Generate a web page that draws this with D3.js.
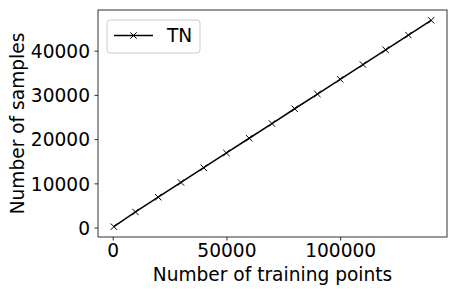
<!DOCTYPE html>
<html>
<head>
<meta charset="utf-8">
<script src="https://cdn.jsdelivr.net/npm/d3@7"></script>
<style>
  body { margin: 0; background: #fff; }
  svg text { font-family: "DejaVu Sans", sans-serif; fill: #000; }
</style>
</head>
<body>
<svg id="chart" width="458" height="293"></svg>
<script>
// datos
const trainingPoints = [500, 10000, 20000, 30000, 40000, 50000, 60000, 70000, 80000, 90000, 100000, 110000, 120000, 130000, 140000];
const samples = [200, 3530, 6870, 10200, 13530, 16870, 20200, 23530, 26870, 30200, 33530, 36870, 40200, 43530, 46870];
const xTicks = [0, 50000, 100000];
const yTicks = [0, 10000, 20000, 30000, 40000];
const seriesName = "TN";

const svg = d3.select("#chart");
const margin = { left: 98, right: 11, top: 10, bottom: 56 };
const width = 458 - margin.left - margin.right;
const height = 293 - margin.top - margin.bottom;
const fontSize = 18.6;

// márgenes de 5% como matplotlib
const xExt = d3.extent(trainingPoints), yExt = d3.extent(samples);
const xPad = (xExt[1] - xExt[0]) * 0.05, yPad = (yExt[1] - yExt[0]) * 0.05;

const x = d3.scaleLinear().domain([xExt[0] - xPad, xExt[1] + xPad]).range([0, width]);
const y = d3.scaleLinear().domain([yExt[0] - yPad, yExt[1] + yPad]).range([height, 0]);

const g = svg.append("g").attr("transform", `translate(${margin.left},${margin.top})`);

// ejes
const xAxis = g.append("g")
  .attr("transform", `translate(0,${height})`)
  .call(d3.axisBottom(x).tickValues(xTicks).tickFormat(d3.format("d")).tickSizeInner(3.5).tickSizeOuter(0).tickPadding(3));
const yAxis = g.append("g")
  .call(d3.axisLeft(y).tickValues(yTicks).tickFormat(d3.format("d")).tickSizeInner(3.5).tickSizeOuter(0).tickPadding(4.5));

[xAxis, yAxis].forEach(a => {
  a.select(".domain").remove();
  a.selectAll(".tick line").attr("stroke", "#000").attr("stroke-width", 0.8);
  a.selectAll(".tick text").attr("font-size", fontSize).attr("font-family", "DejaVu Sans");
});
yAxis.selectAll(".tick text").attr("dy", "0.36em");

// marco
g.append("rect")
  .attr("x", 0).attr("y", 0).attr("width", width).attr("height", height)
  .attr("fill", "none").attr("stroke", "#000").attr("stroke-width", 0.8);

// línea
const line = d3.line().x((d, i) => x(trainingPoints[i])).y(d => y(d));
g.append("path")
  .datum(samples)
  .attr("d", line)
  .attr("fill", "none")
  .attr("stroke", "#000")
  .attr("stroke-width", 1.5);

// marcadores x
const m = 3.2;
function cross(sel) {
  sel.append("path")
    .attr("d", `M${-m},${-m}L${m},${m}M${-m},${m}L${m},${-m}`)
    .attr("stroke", "#000")
    .attr("stroke-width", 1)
    .attr("fill", "none");
}
g.selectAll(".marker")
  .data(samples)
  .enter()
  .append("g")
  .attr("class", "marker")
  .attr("transform", (d, i) => `translate(${x(trainingPoints[i])},${y(d)})`)
  .call(cross);

// etiquetas de ejes
svg.append("text")
  .attr("x", margin.left + width / 2)
  .attr("y", 281)
  .attr("text-anchor", "middle")
  .attr("font-size", fontSize)
  .text("Number of training points");

svg.append("text")
  .attr("transform", `translate(24,${margin.top + height / 2}) rotate(-90)`)
  .attr("text-anchor", "middle")
  .attr("font-size", fontSize)
  .text("Number of samples");

// leyenda
const legend = svg.append("g").attr("transform", "translate(107,20)");
legend.append("rect")
  .attr("width", 93).attr("height", 33).attr("rx", 3)
  .attr("fill", "#fff").attr("fill-opacity", 0.8)
  .attr("stroke", "#ccc").attr("stroke-width", 1);
legend.append("line")
  .attr("x1", 7).attr("x2", 46).attr("y1", 15.5).attr("y2", 15.5)
  .attr("stroke", "#000").attr("stroke-width", 1.5);
legend.append("g").attr("transform", "translate(26.5,15.5)").call(cross);
legend.append("text")
  .attr("x", 60).attr("y", 15.5).attr("dy", "0.36em")
  .attr("font-size", fontSize)
  .text(seriesName);
</script>
</body>
</html>
